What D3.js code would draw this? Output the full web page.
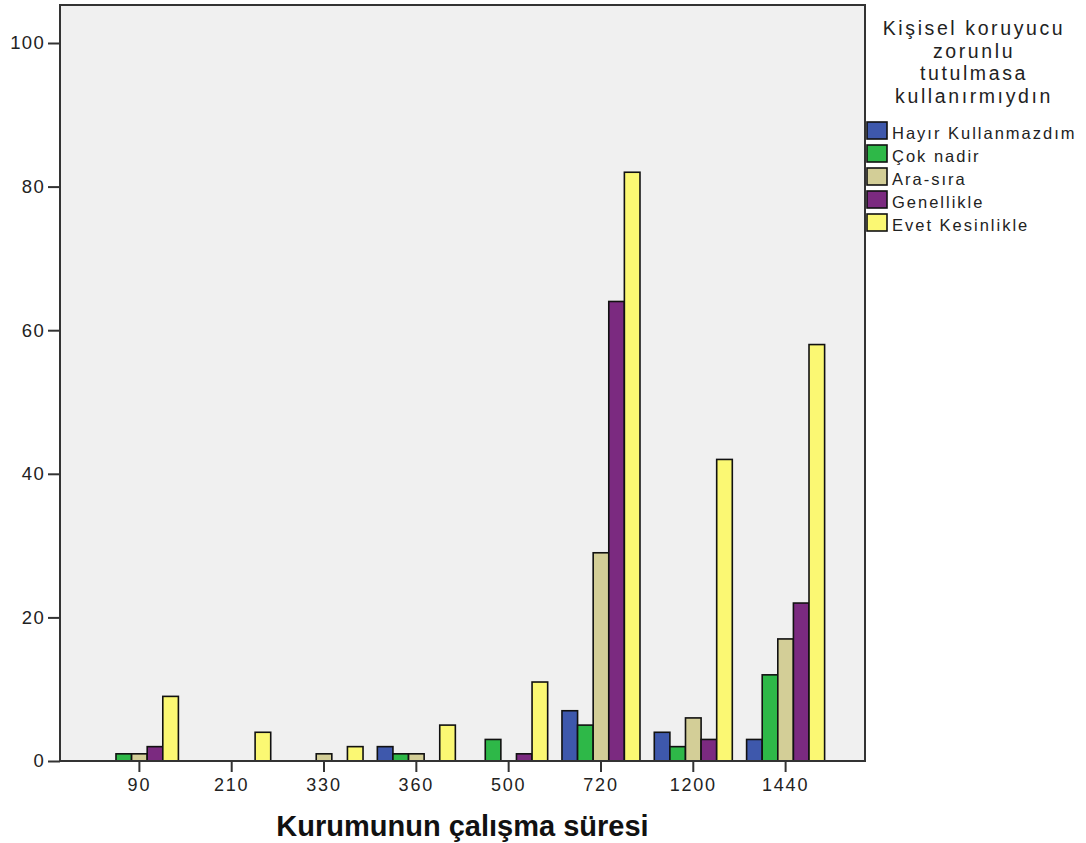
<!DOCTYPE html>
<html><head><meta charset="utf-8">
<script src="https://cdn.jsdelivr.net/npm/d3@7"></script>
<style>
body{margin:0;background:#fff;}
text{font-family:"Liberation Sans",Arial,sans-serif;fill:#222;}
</style></head>
<body><svg id="c" width="1086" height="843"></svg>
<script>
const categories = ["90","210","330","360","500","720","1200","1440"];
const seriesNames = ["Hayır Kullanmazdım","Çok nadir","Ara-sıra","Genellikle","Evet Kesinlikle"];
const seriesColors = ["#3E58AC","#2EB848","#D3CE97","#7B2A80","#FBF873"];
const hayir = [0,0,0,2,0,7,4,3];
const cokNadir = [1,0,0,1,3,5,2,12];
const araSira = [1,0,1,1,0,29,6,17];
const genellikle = [2,0,0,0,1,64,3,22];
const evet = [9,4,2,5,11,82,42,58];
const yTicks = [0,20,40,60,80,100];
const legendTitle = ["Kişisel koruyucu","zorunlu","tutulmasa","kullanırmıydın"];
const xTitle = "Kurumunun çalışma süresi";

const series = [hayir,cokNadir,araSira,genellikle,evet];
const svg = d3.select("#c");
const L=60, T=5, R=865, B=761;

const y = d3.scaleLinear().domain([0,100]).range([B, 43]);
const x0 = d3.scaleBand().domain(categories).range([L,R]).paddingInner(0.155).paddingOuter(0.4375);
const x1 = d3.scaleBand().domain(d3.range(seriesNames.length)).range([0,x0.bandwidth()]);

svg.append("rect").attr("x",L).attr("y",T).attr("width",R-L).attr("height",B-T)
  .attr("fill","#f0f0f0");

const g = svg.append("g");
categories.forEach((c,ci)=>{
  series.forEach((s,si)=>{
    const v = s[ci];
    if(!v) return;
    g.append("rect")
      .attr("x", x0(c)+x1(si))
      .attr("y", y(v))
      .attr("width", x1.bandwidth())
      .attr("height", y(0)-y(v))
      .attr("fill", seriesColors[si])
      .attr("stroke","#111").attr("stroke-width",1.6);
  });
});

// frame
svg.append("rect").attr("x",L).attr("y",T).attr("width",R-L).attr("height",B-T)
  .attr("fill","none").attr("stroke","#333").attr("stroke-width",2);

// y axis
const ya = svg.append("g").attr("transform",`translate(${L},0)`)
  .call(d3.axisLeft(y).tickValues(yTicks).tickSize(12).tickPadding(3));
ya.select(".domain").remove();
ya.selectAll("line").attr("stroke","#333").attr("stroke-width",2);
ya.selectAll("text").style("font-size","18.5px").style("letter-spacing","1.3px")
  .style("font-family","Liberation Sans, Arial, sans-serif").attr("fill","#222");

// x axis
const xa = svg.append("g").attr("transform",`translate(0,${B})`)
  .call(d3.axisBottom(x0).tickSize(11).tickPadding(6));
xa.select(".domain").remove();
xa.selectAll("line").attr("stroke","#333").attr("stroke-width",2);
xa.selectAll("text").style("font-size","18px").style("letter-spacing","1.8px")
  .style("font-family","Liberation Sans, Arial, sans-serif").attr("fill","#222");

svg.append("text").attr("x",(L+R)/2).attr("y",836).attr("text-anchor","middle")
  .style("font-size","29px").style("font-weight","bold").style("fill","#111").text(xTitle);

// legend
const lg = svg.append("g");
legendTitle.forEach((t,i)=>{
  lg.append("text").attr("x",974).attr("y",35+i*22.7).attr("text-anchor","middle")
    .style("font-size","19.5px").style("letter-spacing","2.6px").text(t);
});
seriesNames.forEach((n,i)=>{
  const yy = 122+i*23;
  lg.append("rect").attr("x",867).attr("y",yy).attr("width",20).attr("height",17)
    .attr("fill",seriesColors[i]).attr("stroke","#111").attr("stroke-width",1.6);
  lg.append("text").attr("x",892).attr("y",yy+17).style("font-size","16.5px")
    .style("letter-spacing","2px").text(n);
});
</script></body></html>
